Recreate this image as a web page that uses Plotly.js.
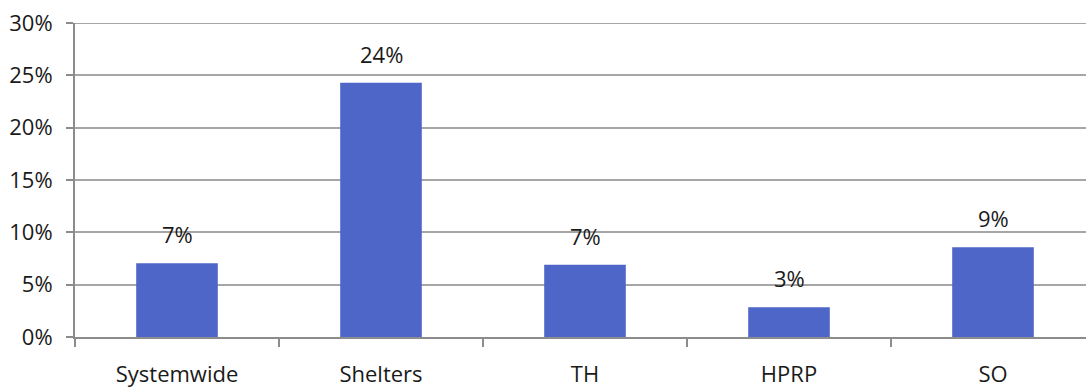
<!DOCTYPE html>
<html>
<head>
<meta charset="utf-8">
<script src="https://cdn.plot.ly/plotly-3.0.1.min.js"></script>
<style>
html,body{margin:0;padding:0;overflow:hidden;background:#fff;}
#chart{width:1100px;height:388px;}
</style>
</head>
<body>
<div id="chart"></div>
<script>
const categories = ["Systemwide", "Shelters", "TH", "HPRP", "SO"];
const values = [0.0705, 0.243, 0.069, 0.0285, 0.0857];
const valueLabels = ["7%", "24%", "7%", "3%", "9%"];
const yTickVals = [0, 0.05, 0.10, 0.15, 0.20, 0.25, 0.30];
const yTickText = ["0%", "5%", "10%", "15%", "20%", "25%", "30%"];

const fontFamily = "Open Sans, DejaVu Sans, sans-serif";
const textColor = "#1a1a1a";

const annotations = categories.map((c, i) => ({
  x: c, y: values[i], xref: "x", yref: "y",
  text: valueLabels[i], showarrow: false,
  yanchor: "bottom", yshift: 12,
  font: {family: fontFamily, size: 22, color: textColor}
}));

Plotly.newPlot("chart", [{
  type: "bar",
  x: categories,
  y: values,
  marker: {color: "#4E66C8", line: {width: 0}},
  width: 0.4,
  hoverinfo: "skip"
}], {
  width: 1100,
  height: 388,
  margin: {l: 75, r: 5, t: 23, b: 51},
  paper_bgcolor: "#ffffff",
  plot_bgcolor: "#ffffff",
  showlegend: false,
  font: {family: fontFamily, size: 22, color: textColor},
  annotations: annotations,
  shapes: [{
    type: "line", xref: "paper", yref: "y",
    x0: 0, x1: 1, y0: yTickVals[yTickVals.length - 1], y1: yTickVals[yTickVals.length - 1],
    line: {color: "#a6a6a6", width: 2}
  }],
  xaxis: {
    type: "category",
    range: [-0.5, 4.5],
    showgrid: false,
    showline: true,
    linecolor: "#8c8c8c",
    linewidth: 2,
    ticks: "outside",
    tickson: "boundaries",
    ticklen: 8,
    tickwidth: 2,
    tickcolor: "#8c8c8c",
    ticklabelstandoff: 17,
    tickfont: {family: fontFamily, size: 22, color: textColor},
    fixedrange: true
  },
  yaxis: {
    range: [0, 0.30],
    tickvals: yTickVals,
    ticktext: yTickText,
    showgrid: true,
    gridcolor: "#a6a6a6",
    gridwidth: 2,
    zeroline: false,
    showline: true,
    linecolor: "#8c8c8c",
    linewidth: 2,
    ticks: "outside",
    ticklen: 7,
    tickwidth: 2,
    tickcolor: "#8c8c8c",
    ticklabelstandoff: 9,
    tickfont: {family: fontFamily, size: 22, color: textColor},
    fixedrange: true
  }
}, {displayModeBar: false, staticPlot: true});
</script>
</body>
</html>
